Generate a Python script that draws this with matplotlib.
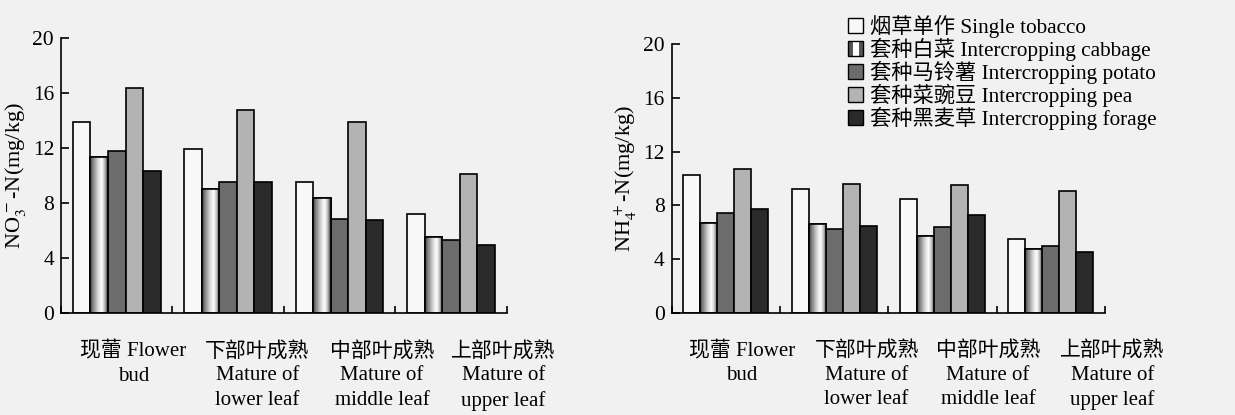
import numpy as np
import matplotlib
matplotlib.use("Agg")
import matplotlib.pyplot as plt
from matplotlib.patches import Rectangle
from matplotlib.legend_handler import HandlerBase

plt.rcParams['font.family'] = ['Liberation Serif', 'Noto Sans CJK SC']
plt.rcParams['mathtext.fontset'] = 'stix'

stages = ["现蕾 Flower\nbud", "下部叶成熟\nMature of\nlower leaf",
          "中部叶成熟\nMature of\nmiddle leaf", "上部叶成熟\nMature of\nupper leaf"]
series = ["烟草单作 Single tobacco", "套种白菜 Intercropping cabbage",
          "套种马铃薯 Intercropping potato", "套种菜豌豆 Intercropping pea",
          "套种黑麦草 Intercropping forage"]

# NO3- -N (mg/kg)
no3_single = [13.9, 11.9, 9.55, 7.2]
no3_cabbage = [11.35, 9.0, 8.35, 5.5]
no3_potato = [11.8, 9.55, 6.85, 5.3]
no3_pea = [16.4, 14.8, 13.9, 10.1]
no3_forage = [10.35, 9.55, 6.75, 4.9]

# NH4+ -N (mg/kg)
nh4_single = [10.25, 9.25, 8.45, 5.5]
nh4_cabbage = [6.7, 6.6, 5.7, 4.75]
nh4_potato = [7.45, 6.25, 6.4, 4.95]
nh4_pea = [10.7, 9.6, 9.5, 9.1]
nh4_forage = [7.7, 6.5, 7.3, 4.55]

yticks = [0, 4, 8, 12, 16, 20]

BG = '#f1f1f1'
face = ['#f8f8f8', None, '#6c6c6c', '#b3b3b3', '#2a2a2a']

grad_nodes = [0.0, 0.12, 0.45, 0.65, 0.82, 0.95, 1.0]
grad_vals = [0.25, 0.45, 0.85, 1.0, 0.75, 0.35, 0.25]
grad = np.interp(np.linspace(0, 1, 64), grad_nodes, grad_vals)[None, :]


def draw(ax, data, ylabel, label_x):
    n = len(data)
    w = 0.157
    x = np.arange(len(stages)) + 0.5
    bars_all = []
    for k, vals in enumerate(data):
        pos = x + (k - (n - 1) / 2) * w
        if face[k] is None:
            bars = ax.bar(pos, vals, w, facecolor='white', edgecolor='black',
                          linewidth=1.2, zorder=2)
            for b in bars:
                im = ax.imshow(grad, cmap='gray', vmin=0, vmax=1,
                               extent=(b.get_x(), b.get_x() + b.get_width(), 0, b.get_height()),
                               aspect='auto', zorder=2.5, interpolation='bilinear')
                im.set_clip_path(b)
            ax.bar(pos, vals, w, facecolor='none', edgecolor='black',
                   linewidth=1.2, zorder=3)
        else:
            bars = ax.bar(pos, vals, w, facecolor=face[k], edgecolor='black',
                          linewidth=1.2, zorder=2)
        bars_all.append(bars)
    ax.set_xlim(0, len(stages))
    ax.set_ylim(0, 20)
    ax.set_yticks(yticks)
    ax.set_xticks(np.arange(len(stages) + 1))
    ax.set_xticklabels([])
    ax.tick_params(axis='y', direction='in', length=6, width=1.2, labelsize=15.5, pad=5)
    ax.tick_params(axis='x', direction='in', length=5, width=1.2)
    for s in ['top', 'right']:
        ax.spines[s].set_visible(False)
    for s in ['left', 'bottom']:
        ax.spines[s].set_linewidth(1.2)
    ax.set_facecolor('none')
    ax.set_ylabel(ylabel, fontsize=16, labelpad=3)
    for lx, lab in zip(label_x, stages):
        ax.text(lx, -0.105, lab, transform=ax.get_xaxis_transform(), ha='center',
                va='top', fontsize=15, linespacing=1.36, multialignment='center')
    return bars_all


class CabbageHandler(HandlerBase):
    def create_artists(self, legend, orig_handle, xdescent, ydescent, width, height, fontsize, trans):
        arts = []
        parts = [(0.0, 0.3, '#555555'), (0.3, 0.4, '#ffffff'), (0.7, 0.3, '#555555')]
        for x0, ww, c in parts:
            r = Rectangle((-xdescent + x0 * width, -ydescent), ww * width, height,
                          facecolor=c, edgecolor='none', transform=trans)
            arts.append(r)
        arts.append(Rectangle((-xdescent, -ydescent), width, height, facecolor='none',
                              edgecolor='black', linewidth=1.0, transform=trans))
        return arts


fig = plt.figure(figsize=(12.35, 4.15), dpi=100, facecolor=BG)
ax1 = fig.add_axes([0.0494, 0.2465, 0.3611, 0.6612])
ax2 = fig.add_axes([0.5439, 0.2458, 0.3508, 0.6482])

b1 = draw(ax1, [no3_single, no3_cabbage, no3_potato, no3_pea, no3_forage],
          r'NO$_3^{\,-}$-N(mg/kg)', [0.65, 1.76, 2.88, 3.97])
draw(ax2, [nh4_single, nh4_cabbage, nh4_potato, nh4_pea, nh4_forage],
     r'NH$_4^{\,+}$-N(mg/kg)', [0.65, 1.80, 2.92, 4.07])

handles = [Rectangle((0, 0), 1, 1, facecolor=face[0], edgecolor='black'),
           Rectangle((0, 0), 1, 1, facecolor='white', edgecolor='black'),
           Rectangle((0, 0), 1, 1, facecolor=face[2], edgecolor='black'),
           Rectangle((0, 0), 1, 1, facecolor=face[3], edgecolor='black'),
           Rectangle((0, 0), 1, 1, facecolor=face[4], edgecolor='black')]
leg = fig.legend(handles, series, loc='upper left', bbox_to_anchor=(0.680, 0.985),
                 frameon=False, fontsize=15.3, handlelength=0.7, handleheight=0.7,
                 handletextpad=0.3, labelspacing=0.0, borderaxespad=0,
                 handler_map={handles[1]: CabbageHandler()})

fig.savefig('out.png', dpi=100, facecolor=BG)
